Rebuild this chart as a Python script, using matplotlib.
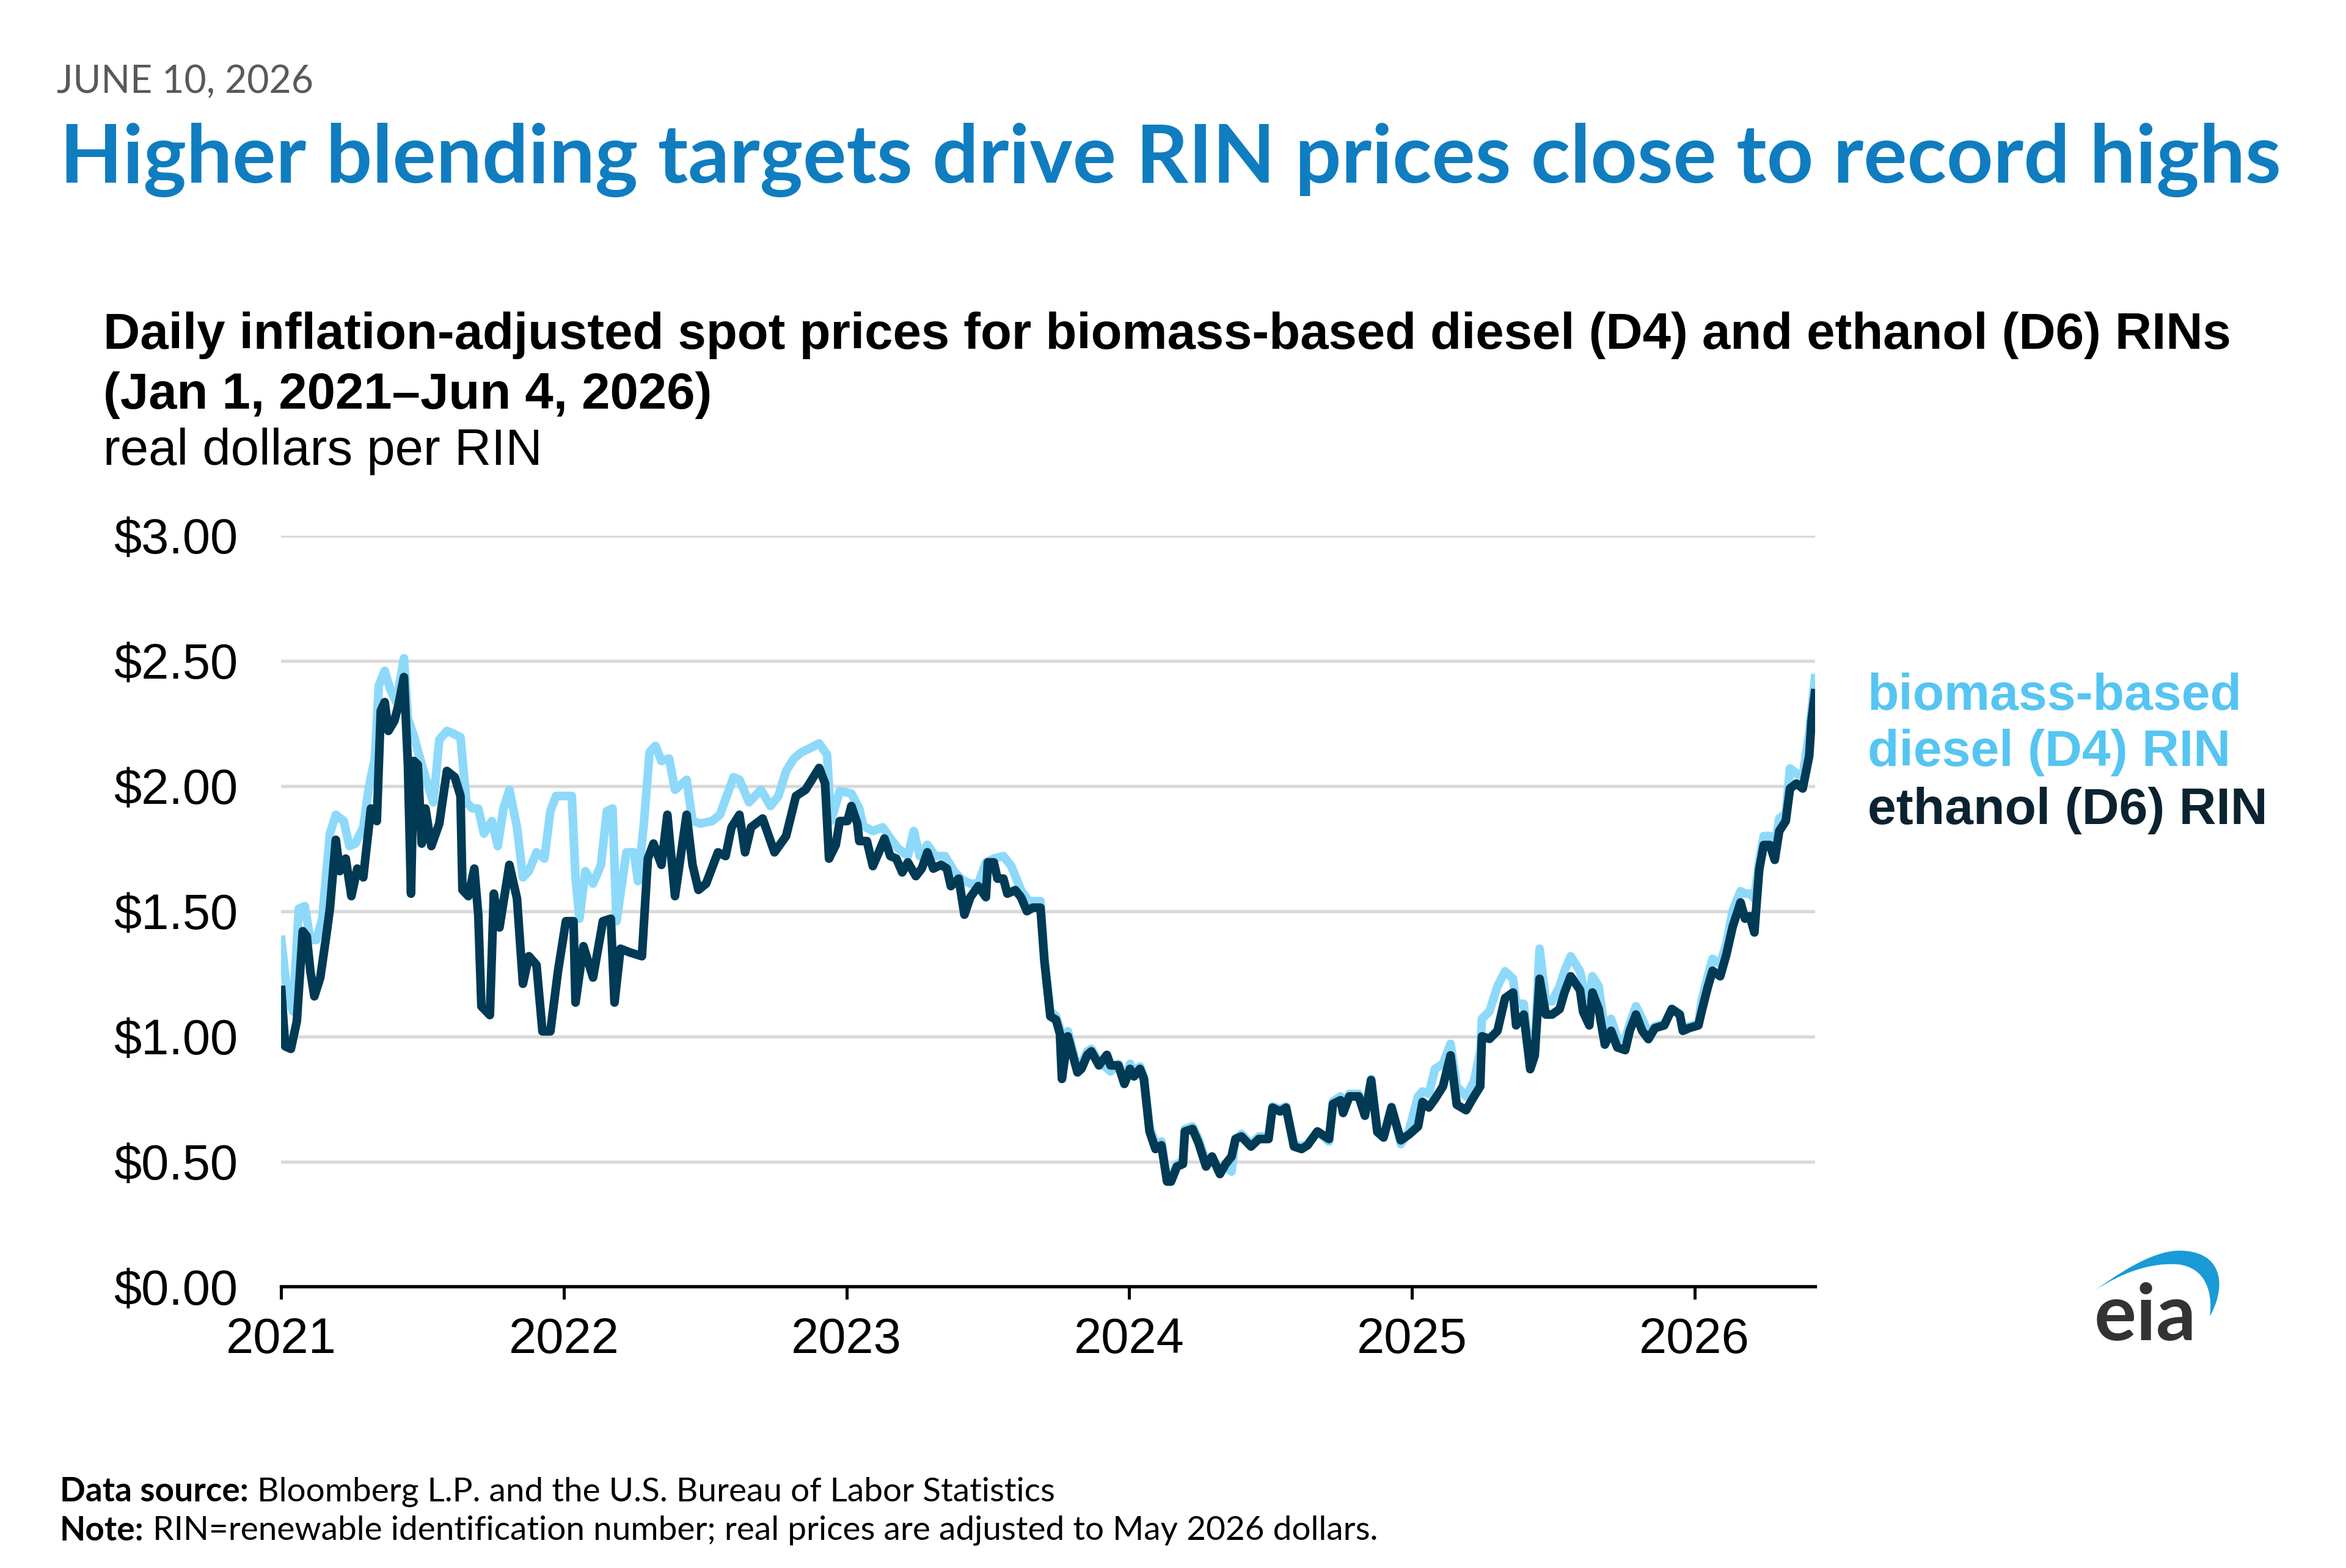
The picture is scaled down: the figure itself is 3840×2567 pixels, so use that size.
import matplotlib
matplotlib.use("Agg")
import matplotlib.pyplot as plt
from matplotlib.path import Path
from matplotlib.patches import PathPatch

plt.rcParams["font.family"] = ["Liberation Sans", "DejaVu Sans"]

# daily real RIN spot prices (decimal years, dollars per RIN)
D6_YEARS = [
    2021.000, 2021.014, 2021.034, 2021.055, 2021.076, 2021.090, 2021.103, 2021.117, 2021.138, 2021.159,
    2021.172, 2021.193, 2021.207, 2021.228, 2021.248, 2021.269, 2021.290, 2021.317, 2021.338, 2021.352,
    2021.366, 2021.379, 2021.400, 2021.414, 2021.434, 2021.448, 2021.459, 2021.469, 2021.483, 2021.497,
    2021.510, 2021.531, 2021.559, 2021.586, 2021.614, 2021.634, 2021.641, 2021.662, 2021.683, 2021.697,
    2021.708, 2021.738, 2021.752, 2021.772, 2021.807, 2021.834, 2021.855, 2021.876, 2021.903, 2021.924,
    2021.952, 2021.979, 2022.007, 2022.034, 2022.041, 2022.069, 2022.103, 2022.138, 2022.166, 2022.179,
    2022.200, 2022.234, 2022.276, 2022.297, 2022.317, 2022.345, 2022.366, 2022.393, 2022.434, 2022.455,
    2022.476, 2022.503, 2022.545, 2022.572, 2022.593, 2022.621, 2022.641, 2022.662, 2022.703, 2022.745,
    2022.786, 2022.821, 2022.855, 2022.903, 2022.924, 2022.938, 2022.962, 2022.976, 2023.003, 2023.017,
    2023.038, 2023.045, 2023.072, 2023.093, 2023.114, 2023.134, 2023.155, 2023.176, 2023.197, 2023.217,
    2023.245, 2023.266, 2023.286, 2023.307, 2023.334, 2023.355, 2023.369, 2023.397, 2023.417, 2023.438,
    2023.466, 2023.493, 2023.500, 2023.521, 2023.534, 2023.555, 2023.569, 2023.597, 2023.617, 2023.638,
    2023.659, 2023.686, 2023.700, 2023.721, 2023.741, 2023.755, 2023.762, 2023.783, 2023.797, 2023.817,
    2023.831, 2023.852, 2023.866, 2023.893, 2023.921, 2023.934, 2023.962, 2023.983, 2024.003, 2024.017,
    2024.038, 2024.052, 2024.072, 2024.093, 2024.114, 2024.134, 2024.148, 2024.169, 2024.190, 2024.197,
    2024.224, 2024.245, 2024.272, 2024.293, 2024.321, 2024.341, 2024.362, 2024.376, 2024.397, 2024.431,
    2024.459, 2024.493, 2024.507, 2024.534, 2024.555, 2024.583, 2024.610, 2024.631, 2024.666, 2024.707,
    2024.721, 2024.748, 2024.757, 2024.779, 2024.812, 2024.834, 2024.856, 2024.878, 2024.900, 2024.928,
    2024.961, 2024.989, 2025.022, 2025.038, 2025.060, 2025.082, 2025.110, 2025.137, 2025.159, 2025.192,
    2025.220, 2025.242, 2025.248, 2025.275, 2025.303, 2025.330, 2025.358, 2025.369, 2025.396, 2025.419,
    2025.435, 2025.452, 2025.474, 2025.496, 2025.523, 2025.540, 2025.562, 2025.595, 2025.606, 2025.628,
    2025.639, 2025.661, 2025.683, 2025.705, 2025.727, 2025.755, 2025.771, 2025.793, 2025.815, 2025.837,
    2025.860, 2025.893, 2025.920, 2025.948, 2025.959, 2025.981, 2026.014, 2026.025, 2026.047, 2026.064,
    2026.091, 2026.113, 2026.135, 2026.163, 2026.179, 2026.196, 2026.212, 2026.229, 2026.245, 2026.267,
    2026.284, 2026.300, 2026.323, 2026.338, 2026.361, 2026.383, 2026.406, 2026.414, 2026.426,
]
D6_VALUES = [
    1.185, 0.96, 0.95, 1.06, 1.42, 1.40, 1.26, 1.16, 1.235, 1.40,
    1.51, 1.785, 1.66, 1.71, 1.56, 1.67, 1.635, 1.91, 1.86, 2.30,
    2.335, 2.22, 2.26, 2.32, 2.435, 2.085, 1.57, 2.10, 2.085, 1.77,
    1.91, 1.76, 1.85, 2.06, 2.035, 1.96, 1.585, 1.56, 1.67, 1.485,
    1.12, 1.085, 1.57, 1.435, 1.685, 1.55, 1.21, 1.32, 1.285, 1.02,
    1.02, 1.26, 1.46, 1.46, 1.135, 1.36, 1.235, 1.46, 1.47, 1.135,
    1.35, 1.335, 1.32, 1.71, 1.77, 1.685, 1.885, 1.56, 1.885, 1.685,
    1.585, 1.61, 1.735, 1.72, 1.835, 1.885, 1.735, 1.835, 1.87, 1.735,
    1.80, 1.96, 1.985, 2.072, 2.01, 1.71, 1.765, 1.86, 1.86, 1.92,
    1.85, 1.78, 1.78, 1.68, 1.735, 1.79, 1.72, 1.71, 1.655, 1.695,
    1.64, 1.67, 1.735, 1.67, 1.685, 1.67, 1.60, 1.63, 1.486, 1.556,
    1.60, 1.556, 1.695, 1.695, 1.63, 1.63, 1.57, 1.584, 1.556, 1.50,
    1.514, 1.514, 1.30, 1.08, 1.066, 1.01, 0.83, 1.00, 0.94, 0.856,
    0.87, 0.926, 0.94, 0.884, 0.926, 0.884, 0.884, 0.81, 0.87, 0.84,
    0.87, 0.83, 0.62, 0.55, 0.565, 0.42, 0.42, 0.48, 0.49, 0.62,
    0.63, 0.575, 0.48, 0.52, 0.45, 0.49, 0.52, 0.59, 0.60, 0.56,
    0.59, 0.59, 0.715, 0.70, 0.715, 0.56, 0.55, 0.565, 0.62, 0.59,
    0.73, 0.745, 0.694, 0.76, 0.76, 0.683, 0.825, 0.618, 0.596, 0.716,
    0.585, 0.607, 0.64, 0.738, 0.716, 0.75, 0.80, 0.924, 0.727, 0.705,
    0.76, 0.80, 1.00, 0.99, 1.022, 1.153, 1.175, 1.044, 1.087, 0.869,
    0.924, 1.23, 1.087, 1.087, 1.109, 1.175, 1.24, 1.185, 1.098, 1.044,
    1.175, 1.109, 0.967, 1.022, 0.956, 0.945, 1.022, 1.087, 1.022, 0.989,
    1.033, 1.044, 1.109, 1.087, 1.022, 1.033, 1.044, 1.098, 1.196, 1.262,
    1.24, 1.327, 1.437, 1.535, 1.47, 1.48, 1.415, 1.666, 1.764, 1.764,
    1.705, 1.82, 1.86, 1.99, 2.01, 1.99, 2.12, 2.26, 2.37,
]

D4_YEARS = [
    2021.000, 2021.021, 2021.041, 2021.062, 2021.083, 2021.103, 2021.124, 2021.145, 2021.172, 2021.193,
    2021.221, 2021.241, 2021.262, 2021.290, 2021.310, 2021.331, 2021.345, 2021.366, 2021.386, 2021.407,
    2021.434, 2021.448, 2021.469, 2021.497, 2021.517, 2021.538, 2021.559, 2021.586, 2021.607, 2021.634,
    2021.655, 2021.676, 2021.697, 2021.717, 2021.745, 2021.766, 2021.786, 2021.807, 2021.834, 2021.855,
    2021.876, 2021.903, 2021.931, 2021.952, 2021.972, 2022.000, 2022.028, 2022.041, 2022.055, 2022.076,
    2022.103, 2022.131, 2022.152, 2022.172, 2022.186, 2022.221, 2022.248, 2022.262, 2022.283, 2022.303,
    2022.324, 2022.345, 2022.372, 2022.393, 2022.434, 2022.455, 2022.483, 2022.524, 2022.552, 2022.600,
    2022.621, 2022.655, 2022.697, 2022.731, 2022.759, 2022.786, 2022.814, 2022.841, 2022.869, 2022.903,
    2022.931, 2022.945, 2022.976, 2023.017, 2023.045, 2023.059, 2023.093, 2023.128, 2023.162, 2023.183,
    2023.217, 2023.238, 2023.259, 2023.286, 2023.314, 2023.348, 2023.383, 2023.410, 2023.438, 2023.466,
    2023.493, 2023.521, 2023.555, 2023.583, 2023.617, 2023.645, 2023.686, 2023.700, 2023.721, 2023.741,
    2023.755, 2023.762, 2023.783, 2023.797, 2023.817, 2023.831, 2023.852, 2023.866, 2023.893, 2023.934,
    2023.962, 2023.983, 2024.003, 2024.017, 2024.038, 2024.052, 2024.072, 2024.093, 2024.114, 2024.134,
    2024.148, 2024.169, 2024.190, 2024.197, 2024.224, 2024.245, 2024.272, 2024.293, 2024.321, 2024.341,
    2024.362, 2024.376, 2024.397, 2024.431, 2024.459, 2024.493, 2024.507, 2024.534, 2024.555, 2024.583,
    2024.610, 2024.631, 2024.666, 2024.707, 2024.721, 2024.748, 2024.757, 2024.779, 2024.812, 2024.834,
    2024.856, 2024.878, 2024.900, 2024.928, 2024.961, 2024.989, 2025.022, 2025.038, 2025.060, 2025.082,
    2025.110, 2025.137, 2025.159, 2025.192, 2025.220, 2025.242, 2025.248, 2025.275, 2025.303, 2025.330,
    2025.358, 2025.369, 2025.396, 2025.419, 2025.435, 2025.452, 2025.474, 2025.496, 2025.523, 2025.540,
    2025.562, 2025.595, 2025.606, 2025.628, 2025.639, 2025.661, 2025.683, 2025.705, 2025.727, 2025.755,
    2025.771, 2025.793, 2025.815, 2025.837, 2025.860, 2025.893, 2025.920, 2025.948, 2025.959, 2025.981,
    2026.014, 2026.025, 2026.047, 2026.064, 2026.091, 2026.113, 2026.135, 2026.163, 2026.179, 2026.196,
    2026.212, 2026.229, 2026.245, 2026.267, 2026.284, 2026.300, 2026.323, 2026.338, 2026.361, 2026.383,
    2026.406, 2026.414, 2026.426,
]
D4_VALUES = [
    1.385, 1.17, 1.10, 1.51, 1.52, 1.385, 1.385, 1.47, 1.81, 1.885,
    1.86, 1.76, 1.77, 1.835, 1.995, 2.11, 2.40, 2.46, 2.385, 2.335,
    2.51, 2.27, 2.20, 2.085, 2.01, 1.935, 2.185, 2.22, 2.21, 2.195,
    1.935, 1.91, 1.91, 1.81, 1.86, 1.76, 1.91, 1.985, 1.835, 1.635,
    1.66, 1.735, 1.71, 1.90, 1.96, 1.96, 1.96, 1.635, 1.47, 1.66,
    1.61, 1.685, 1.90, 1.91, 1.46, 1.735, 1.735, 1.62, 1.85, 2.135,
    2.16, 2.10, 2.11, 1.985, 2.025, 1.86, 1.85, 1.86, 1.885, 2.035,
    2.025, 1.935, 1.985, 1.92, 1.96, 2.06, 2.11, 2.135, 2.15, 2.17,
    2.125, 1.86, 1.98, 1.97, 1.91, 1.84, 1.82, 1.835, 1.78, 1.75,
    1.72, 1.82, 1.72, 1.765, 1.72, 1.72, 1.655, 1.625, 1.61, 1.61,
    1.695, 1.71, 1.72, 1.68, 1.584, 1.54, 1.54, 1.32, 1.10, 1.08,
    1.03, 0.85, 1.02, 0.96, 0.87, 0.89, 0.94, 0.95, 0.90, 0.86,
    0.89, 0.83, 0.89, 0.86, 0.88, 0.84, 0.64, 0.57, 0.58, 0.43,
    0.43, 0.49, 0.50, 0.63, 0.64, 0.59, 0.50, 0.52, 0.46, 0.48,
    0.46, 0.59, 0.61, 0.57, 0.60, 0.60, 0.72, 0.71, 0.72, 0.57,
    0.56, 0.57, 0.62, 0.58, 0.74, 0.76, 0.70, 0.77, 0.77, 0.69,
    0.83, 0.63, 0.60, 0.72, 0.57, 0.62, 0.76, 0.78, 0.77, 0.87,
    0.89, 0.97, 0.80, 0.76, 0.82, 0.94, 1.07, 1.10, 1.20, 1.26,
    1.23, 1.13, 1.13, 0.90, 0.96, 1.35, 1.14, 1.14, 1.20, 1.26,
    1.32, 1.26, 1.20, 1.15, 1.24, 1.20, 1.02, 1.07, 0.99, 0.99,
    1.05, 1.12, 1.07, 1.01, 1.04, 1.05, 1.11, 1.09, 1.03, 1.04,
    1.05, 1.14, 1.24, 1.31, 1.29, 1.37, 1.50, 1.58, 1.57, 1.57,
    1.55, 1.70, 1.80, 1.80, 1.76, 1.87, 1.89, 2.07, 2.05, 2.04,
    2.21, 2.30, 2.43,
]

YEAR_TICKS = [2021, 2022, 2023, 2024, 2025, 2026]
PRICE_TICKS = [0.0, 0.5, 1.0, 1.5, 2.0, 2.5, 3.0]
PRICE_LABELS = [f"${v:.2f}" for v in PRICE_TICKS]

D4_LINE = "#8DD9FA"
D4_TEXT = "#56C5F2"
D6_LINE = "#003A55"
D6_TEXT = "#0B2231"
TITLE_BLUE = "#0F7DC0"

W, H = 3840, 2567
fig = plt.figure(figsize=(W / 300, H / 300), dpi=300)

ax = fig.add_axes([0.1199, 0.1794, 0.6537, 0.479])
ax.plot(D4_YEARS, D4_VALUES, color=D4_LINE, lw=3.4, solid_joinstyle="round", zorder=3)
ax.plot(D6_YEARS, D6_VALUES, color=D6_LINE, lw=3.4, solid_joinstyle="round", zorder=4)
ax.set_xlim(YEAR_TICKS[0], D6_YEARS[-1])
ax.set_ylim(PRICE_TICKS[0], PRICE_TICKS[-1])
ax.set_yticks(PRICE_TICKS, PRICE_LABELS)
ax.set_xticks(YEAR_TICKS, [str(y) for y in YEAR_TICKS])
for side in ("top", "right", "left"):
    ax.spines[side].set_visible(False)
ax.spines["bottom"].set_linewidth(1.3)
ax.tick_params(axis="y", length=0, pad=17, labelsize=19.5)
ax.tick_params(axis="x", length=5, width=1.2, pad=7, labelsize=19.5)
ax.grid(axis="y", color="#D9D9D9", lw=1.3)
ax.set_axisbelow(True)

# header
fig.text(0.0242, 0.9475, "JUNE 10, 2026", fontsize=15, color="#595959", va="center",
         family=["Lato", "DejaVu Sans"])
fig.text(0.0255, 0.898, "Higher blending targets drive RIN prices close to record highs",
         fontsize=32, weight="bold", color=TITLE_BLUE, va="center", family=["Lato", "DejaVu Sans"])
fig.text(0.044, 0.786,
         "Daily inflation-adjusted spot prices for biomass-based diesel (D4) and ethanol (D6) RINs",
         fontsize=20, weight="bold", va="center")
fig.text(0.044, 0.748, "(Jan 1, 2021\u2013Jun 4, 2026)", fontsize=20, weight="bold", va="center")
fig.text(0.044, 0.712, "real dollars per RIN", fontsize=20, va="center")

# direct labels
fig.text(0.796, 0.556, "biomass-based", fontsize=20.2, weight="bold", color=D4_TEXT, va="center")
fig.text(0.796, 0.520, "diesel (D4) RIN", fontsize=20.2, weight="bold", color=D4_TEXT, va="center")
fig.text(0.796, 0.483, "ethanol (D6) RIN", fontsize=20.2, weight="bold", color=D6_TEXT, va="center")

# footnotes: bold lead-in followed by regular text
renderer = fig.canvas.get_renderer()
note_font = ["Lato", "DejaVu Sans"]
for y, lead, rest in (
    (0.0487, "Data source:", " Bloomberg L.P. and the U.S. Bureau of Labor Statistics"),
    (0.0239, "Note:", " RIN=renewable identification number; real prices are adjusted to May 2026 dollars."),
):
    t = fig.text(0.0255, y, lead, fontsize=13.2, weight="bold", va="center", family=note_font)
    bb = t.get_window_extent(renderer).transformed(fig.transFigure.inverted())
    fig.text(bb.x1, y, rest, fontsize=13.2, va="center", family=note_font)

# eia logo, drawn in pixel units of the full-size image
logo = fig.add_axes([3400 / W, 1 - 2215 / H, 260 / W, 190 / H])
logo.set_xlim(3400, 3660)
logo.set_ylim(2215, 2025)
logo.axis("off")
arc = Path(
    [(3430, 2112), (3490, 2068), (3540, 2043), (3578, 2048),
     (3642, 2054), (3642, 2112), (3617, 2155),
     (3622, 2118), (3612, 2076), (3566, 2070),
     (3520, 2066), (3470, 2085), (3430, 2112)],
    [Path.MOVETO, Path.CURVE4, Path.CURVE4, Path.CURVE4,
     Path.CURVE4, Path.CURVE4, Path.CURVE4,
     Path.CURVE4, Path.CURVE4, Path.CURVE4,
     Path.CURVE4, Path.CURVE4, Path.CURVE4],
)
logo.add_patch(PathPatch(arc, facecolor="#1A9AD6", edgecolor="none"))
logo.text(3428, 2194, "eia", fontsize=31, weight="bold", color="#333333", va="baseline", ha="left",
          family=["Lato", "DejaVu Sans"])

fig.savefig("out.png", dpi=300)
